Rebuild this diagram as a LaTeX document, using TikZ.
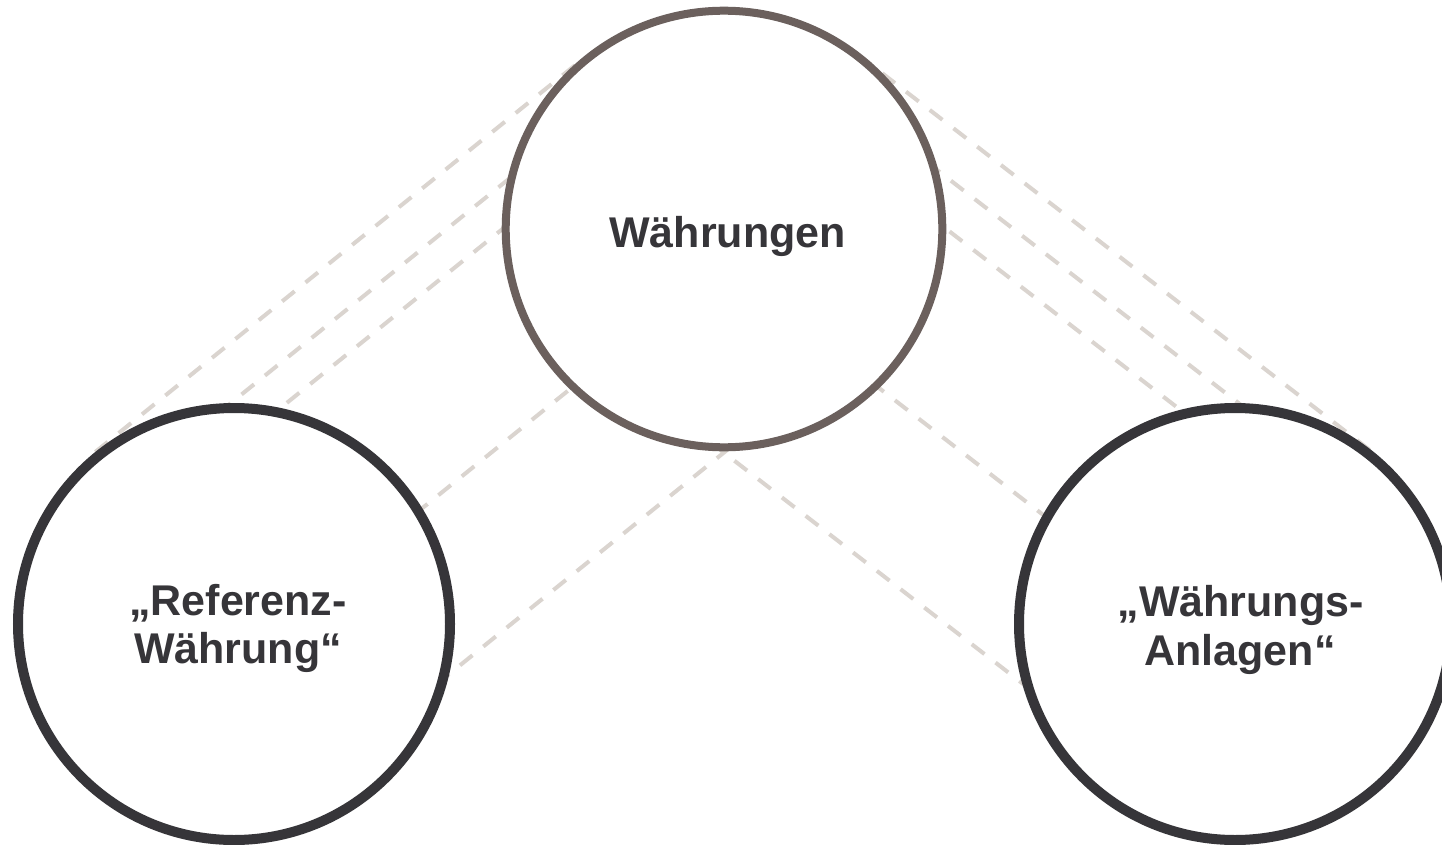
\documentclass[tikz,border=0pt]{standalone}
\usepackage{fontspec}
\setmainfont{Liberation Sans}
\usetikzlibrary{calc,backgrounds}
\definecolor{ringtop}{HTML}{6B605D}
\definecolor{ringdark}{HTML}{363539}
\definecolor{guide}{HTML}{DAD4CF}
\definecolor{ink}{HTML}{363539}
\begin{document}
\begin{tikzpicture}[x=1pt,y=1pt,
  ring/.style={circle, fill=white, inner sep=0pt, outer sep=0pt},
  topring/.style={ring, draw=ringtop, line width=8pt, minimum size=436.6pt},
  basering/.style={ring, draw=ringdark, line width=10pt, minimum size=432pt},
  guideline/.style={draw=guide, line width=4pt, dash pattern=on 16pt off 14pt},
  ringtext/.style={text=ink, font=\fontsize{43}{49}\selectfont\bfseries, inner sep=0pt, anchor=base}]
\useasboundingbox (0,0) rectangle (1442,-845);

% the three circles
\node[topring]  (T) at (724,-229)  {};
\node[basering] (L) at (234,-624)  {};
\node[basering] (R) at (1235,-624) {};

% dashed guide lines, parallel to the centre lines, behind the circles
\begin{scope}[on background layer]
  \fill[white] (0,0) rectangle (1442,-845);
  \foreach \d/\a/\b in {221/90/-90, 174/90/-90, 139/90/-90, 28/-90/90, 174/-90/90} {
    \draw[guideline] ($(L.center)!\d pt!\a:(T.center)$) -- ($(T.center)!\d pt!\b:(L.center)$);
  }
  \foreach \d/\a/\b in {220/90/-90, 177/90/-90, 136/90/-90, 31/-90/90, 177/-90/90} {
    \draw[guideline] ($(T.center)!\d pt!\a:(R.center)$) -- ($(R.center)!\d pt!\b:(T.center)$);
  }
\end{scope}

% labels
\node[ringtext] (tT)  at (727.5,-247) {Währungen};
\node[ringtext] (tL1) at (238,-615)   {„Referenz-};
\node[ringtext] (tL2) at (238,-663.5) {Währung“};
\node[ringtext] (tR1) at (1240.5,-616.5) {„Währungs-};
\node[ringtext] (tR2) at (1240,-665)  {Anlagen“};
\end{tikzpicture}
\end{document}
